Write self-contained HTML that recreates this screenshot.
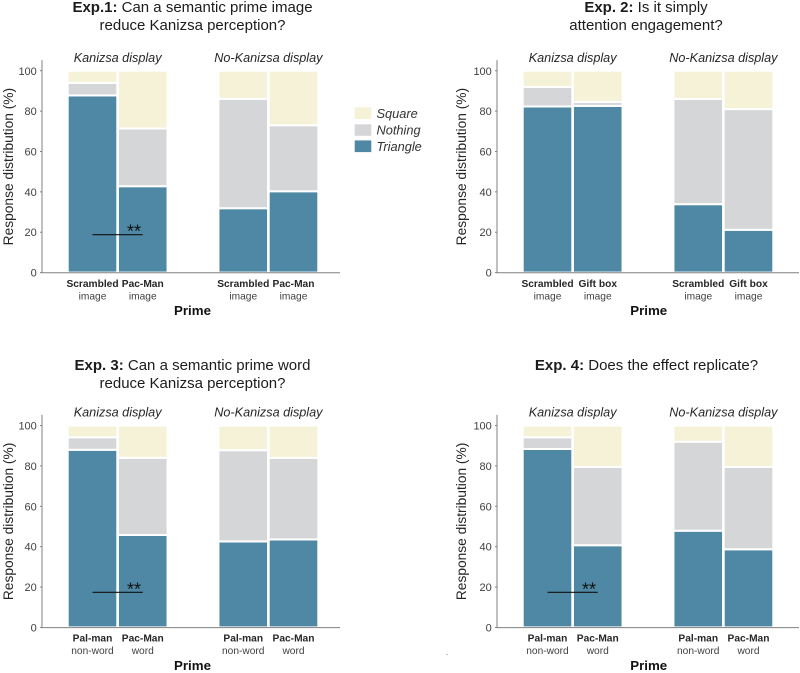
<!DOCTYPE html>
<html lang="en">
<head>
<meta charset="utf-8">
<title>Kanizsa perception experiments</title>
<style>
html,body{margin:0;padding:0;background:#fff;}
svg{display:block;font-family:"Liberation Sans",Arial,sans-serif;}
.title{font-size:15px;fill:#1c1c1c;text-anchor:middle;}
.title tspan.b{font-weight:bold;}
.group{font-size:12.65px;font-style:italic;fill:#262626;text-anchor:middle;}
.ylab{font-size:13.75px;fill:#262626;text-anchor:middle;}
.tick{font-size:11px;fill:#404040;text-anchor:end;}
.cat{font-size:10.2px;font-weight:bold;fill:#262626;text-anchor:middle;}
.sub{font-size:10.2px;fill:#404040;text-anchor:middle;}
.xlab{font-size:13.3px;font-weight:bold;fill:#111;text-anchor:middle;}
.leg{font-size:12.8px;font-style:italic;fill:#333;}
.star{font-size:18px;fill:#111;text-anchor:middle;}
</style>
</head>
<body>
<svg id="fig" xmlns="http://www.w3.org/2000/svg" width="800" height="673" viewBox="0 0 800 673">
  <rect width="800" height="673" fill="#fff"/>
  <text class="title" x="192.5" y="12"><tspan class="b">Exp.1:</tspan> Can a semantic prime image</text>
  <text class="title" x="192.5" y="30">reduce Kanizsa perception?</text>
  <text class="title" x="646" y="12"><tspan class="b">Exp. 2:</tspan> Is it simply</text>
  <text class="title" x="646" y="30">attention engagement?</text>
  <text class="title" x="192.5" y="370"><tspan class="b">Exp. 3:</tspan> Can a semantic prime word</text>
  <text class="title" x="192.5" y="388">reduce Kanizsa perception?</text>
  <text class="title" x="646.5" y="370"><tspan class="b">Exp. 4:</tspan> Does the effect replicate?</text>

  <g>
    <rect x="354.7" y="107.3" width="16.6" height="11.7" fill="#f5f2d7"/>
    <text class="leg" x="376.5" y="118">Square</text>
    <rect x="354.7" y="124.3" width="16.6" height="11.5" fill="#d4d6d8"/>
    <text class="leg" x="376.5" y="134.5">Nothing</text>
    <rect x="354.7" y="140.4" width="16.6" height="11.7" fill="#4f88a4"/>
    <text class="leg" x="376.5" y="151">Triangle</text>
  </g>
  <rect x="446.5" y="654" width="1" height="1" fill="#777"/>
</svg>
<script>
// Y axis ticks
const yTicks = [0, 20, 40, 60, 80, 100];

// Category labels per experiment
const exp1Categories = ["Scrambled", "Pac-Man", "Scrambled", "Pac-Man"];
const exp1Subs = ["image", "image", "image", "image"];
const exp2Categories = ["Scrambled", "Gift box", "Scrambled", "Gift box"];
const exp2Subs = ["image", "image", "image", "image"];
const exp3Categories = ["Pal-man", "Pac-Man", "Pal-man", "Pac-Man"];
const exp3Subs = ["non-word", "word", "non-word", "word"];
const exp4Categories = ["Pal-man", "Pac-Man", "Pal-man", "Pac-Man"];
const exp4Subs = ["non-word", "word", "non-word", "word"];

// Response distribution (%)
const exp1Triangle = [87.8, 42.8, 31.9, 40.3];
const exp1Nothing  = [6.2, 28.6, 54.2, 32.7];
const exp1Square   = [6.0, 28.6, 13.9, 27.0];

const exp2Triangle = [82.3, 82.6, 33.9, 21.2];
const exp2Nothing  = [9.7, 2.0, 52.1, 59.8];
const exp2Square   = [8.0, 15.4, 14.0, 19.0];

const exp3Triangle = [88.0, 45.8, 42.6, 43.6];
const exp3Nothing  = [6.2, 38.2, 45.2, 40.4];
const exp3Square   = [5.8, 16.0, 12.2, 16.0];

const exp4Triangle = [88.4, 40.7, 47.9, 38.7];
const exp4Nothing  = [5.8, 38.8, 44.1, 40.8];
const exp4Square   = [5.8, 20.5, 8.0, 20.5];

// Height (%) of the significance bar per experiment; null = none
const exp1Sig = 18.8;
const exp2Sig = null;
const exp3Sig = 17.4;
const exp4Sig = 17.4;

const NS = "http://www.w3.org/2000/svg";
const svg = document.getElementById("fig");
const COLORS = { triangle: "#4f88a4", nothing: "#d4d6d8", square: "#f5f2d7" };

function make(tag, attrs, parent, txt) {
  const el = document.createElementNS(NS, tag);
  for (const k in attrs) el.setAttribute(k, attrs[k]);
  if (txt !== undefined) el.textContent = txt;
  parent.appendChild(el);
  return el;
}

function drawPanel(id, ox, oy, right, labX, cats, subs, tri, not, squ, sig, primeX) {
  const g = make("g", {}, svg);
  
  

  const y = v => oy - v * 2.0185;
  const slot = i => i < 2 ? i + 1 : i + 2;
  const xc = i => ox + 0.25 + 50.25 * slot(i);
  const barW = 49.6;

  // stacked bars
  cats.forEach((c, i) => {
    const stack = [["triangle", tri[i]], ["nothing", not[i]], ["square", squ[i]]];
    let base = 0;
    stack.forEach(s => {
      const r = make("rect", {
        x: xc(i) - barW / 2, y: y(base + s[1]), width: barW,
        height: y(base) - y(base + s[1]),
        fill: COLORS[s[0]], stroke: "#fff", "stroke-width": 2
      }, g);
      
      
      base += s[1];
    });
    const t1 = make("text", { class: "cat", x: xc(i), y: oy + 14.3 }, g, c);
    
    
    const t2 = make("text", { class: "sub", x: xc(i), y: oy + 26.8 }, g, subs[i]);
    
    
  });

  // axes
  const ya = make("line", { x1: ox, x2: ox, y1: oy - 212.5, y2: oy, stroke: "#808080", "stroke-width": 1 }, g);
  
  
  const xa = make("line", { x1: ox - 0.5, x2: right, y1: oy + 0.2, y2: oy + 0.2, stroke: "#808080", "stroke-width": 1 }, g);
  
  

  yTicks.forEach(v => {
    const tm = make("line", { x1: ox - 2, x2: ox, y1: y(v), y2: y(v), stroke: "#808080", "stroke-width": 1 }, g);
    
    
    const tl = make("text", { class: "tick", x: ox - 5.2, y: y(v) + 4 }, g, String(v));
    
    
  });

  // labels
  const yl = make("text", { class: "ylab", transform: "translate(" + labX + "," + (oy - 106) + ") rotate(-90)" }, g, "Response distribution (%)");
  
  
  const xl = make("text", { class: "xlab", x: primeX, y: oy + 42.6 }, g, "Prime");
  
  
  const g1 = make("text", { class: "group", x: (xc(0) + xc(1)) / 2, y: oy - 210.8 }, g, "Kanizsa display");
  
  
  const g2 = make("text", { class: "group", x: (xc(2) + xc(3)) / 2, y: oy - 210.8 }, g, "No-Kanizsa display");
  
  

  // significance
  if (sig !== null) {
    const ln = make("line", { x1: xc(0), x2: xc(1), y1: y(sig), y2: y(sig), stroke: "#111", "stroke-width": 1.1 }, g);
    
    
    const st = make("text", { class: "star", x: xc(1) - 8.7, y: y(sig) + 3 }, g, "**");
    
    
  }
}

drawPanel("exp1", 42, 272.6, 340, 13, exp1Categories, exp1Subs, exp1Triangle, exp1Nothing, exp1Square, exp1Sig, 192.5);
drawPanel("exp2", 497, 272.6, 799, 466, exp2Categories, exp2Subs, exp2Triangle, exp2Nothing, exp2Square, exp2Sig, 648.7);
drawPanel("exp3", 42, 627.4, 340, 13, exp3Categories, exp3Subs, exp3Triangle, exp3Nothing, exp3Square, exp3Sig, 192.5);
drawPanel("exp4", 497, 627.4, 799, 466, exp4Categories, exp4Subs, exp4Triangle, exp4Nothing, exp4Square, exp4Sig, 648.7);
</script>
</body>
</html>
